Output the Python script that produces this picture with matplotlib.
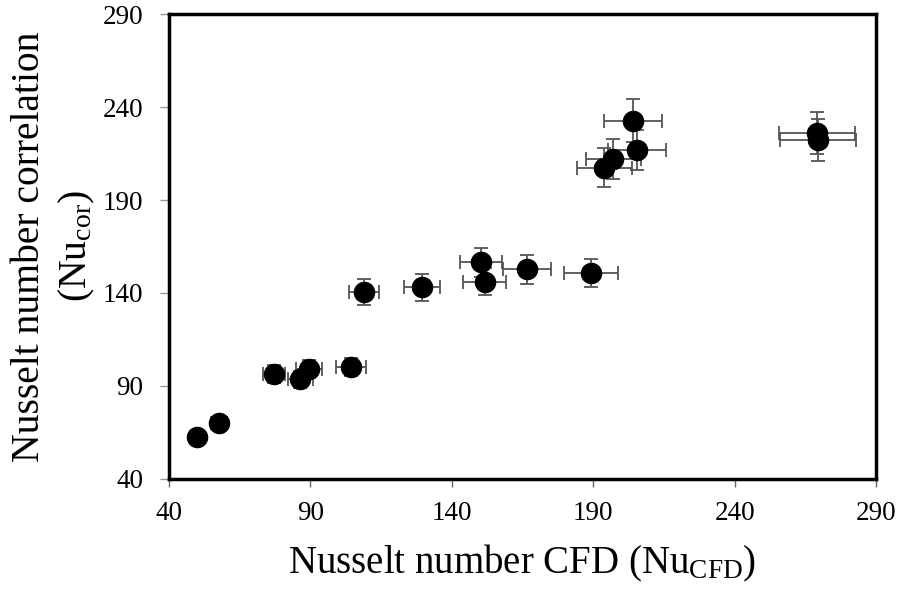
import matplotlib
matplotlib.use("Agg")
import matplotlib.pyplot as plt
import numpy as np

plt.rcParams['font.family'] = ['Liberation Serif', 'DejaVu Serif']
plt.rcParams['mathtext.fontset'] = 'custom'
plt.rcParams['mathtext.rm'] = 'Liberation Serif'
plt.rcParams['mathtext.it'] = 'Liberation Serif:italic'

# Nusselt number from CFD vs from correlation
nu_cfd = [49.9, 57.7, 77.1, 86.5, 89.5, 104.5, 109.0, 129.5, 150.3, 151.6,
          166.6, 189.3, 194.0, 197.2, 204.2, 205.5, 269.0, 269.5]
nu_cor = [62.5, 69.8, 96.3, 93.6, 99.0, 100.2, 140.3, 143.0, 156.4, 146.0,
          152.7, 150.8, 207.4, 212.0, 232.6, 217.0, 226.0, 222.3]
err_frac = 0.05  # 5 % error bars on both quantities

ticks = [40, 90, 140, 190, 240, 290]

x = np.array(nu_cfd)
y = np.array(nu_cor)

fig = plt.figure(figsize=(8.98, 5.89), dpi=100)
ax = fig.add_axes([0.188, 0.187, 0.7875, 0.789])

ax.errorbar(x, y, xerr=err_frac * x, yerr=err_frac * y, fmt='none',
            ecolor='#555555', elinewidth=1.3, capsize=5, capthick=1.3, zorder=2)
ax.plot(x, y, 'o', color='black', markersize=14.5, zorder=3)

ax.set_xlim(40, 290)
ax.set_ylim(40, 290)
ax.set_xticks(ticks)
ax.set_yticks(ticks)
ax.tick_params(axis='x', direction='out', length=6, width=1, color='#666666',
               labelsize=19.5, pad=10)
ax.tick_params(axis='y', direction='out', length=6.5, width=1, color='#999999',
               labelsize=19.5, pad=12)
for s in ax.spines.values():
    s.set_linewidth(2.5)
    s.set_color('black')

ax.set_xlabel(r'Nusselt number CFD (Nu$_{\mathrm{CFD}}$)', fontsize=28, labelpad=12)
ax.set_ylabel('Nusselt number correlation\n' + r'(Nu$_{\mathrm{cor}}$)', fontsize=28.5,
              labelpad=4, linespacing=1.31)

fig.savefig('out.png', dpi=100)
